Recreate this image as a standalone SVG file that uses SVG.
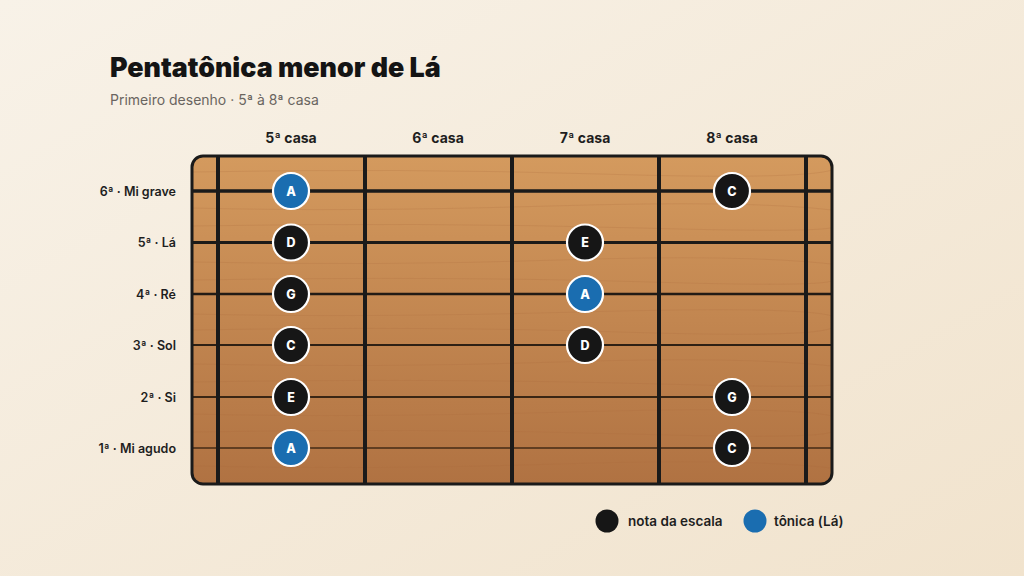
<svg xmlns="http://www.w3.org/2000/svg" width="1024" height="576" viewBox="0 0 1024 576">
<defs>
<linearGradient id="bg" x1="0" y1="0" x2="1" y2="1">
<stop offset="0" stop-color="#f8f2e8"/>
<stop offset="1" stop-color="#f1e3cd"/>
</linearGradient>
<linearGradient id="wood" x1="0" y1="0" x2="0" y2="1">
<stop offset="0" stop-color="#d49a5e"/>
<stop offset="1" stop-color="#b07242"/>
</linearGradient>
<clipPath id="fbclip"><rect x="192" y="156" width="640" height="328" rx="11"/></clipPath>
<style>
.title{font-family:Inter,"Noto Sans",sans-serif;font-weight:900;font-size:26.8px;fill:#141414}
.sub{font-family:Inter,"Noto Sans",sans-serif;font-size:14px;fill:#6a6560}
.col{font-family:Inter,"Noto Sans",sans-serif;font-weight:700;font-size:14px;fill:#1e1e1e;text-anchor:middle}
.str{font-family:Inter,"Noto Sans",sans-serif;font-weight:600;font-size:12.5px;fill:#1e1e1e;text-anchor:end}
.leg{font-family:Inter,"Noto Sans",sans-serif;font-weight:600;font-size:13.5px;fill:#1e1e1e}
.fret{stroke:#1a1a1a;stroke-width:4}
.grain{stroke:#a86a3a;stroke-opacity:0.2;stroke-width:1;fill:none}
.note{stroke:#ffffff;stroke-width:2.2}
.scale{fill:#161616}
.root{fill:#1a6db0}
.nl{font-family:Inter,"Noto Sans",sans-serif;font-weight:800;font-size:12.5px;fill:#ffffff;text-anchor:middle}
</style>
</defs>
<rect width="1024" height="576" fill="url(#bg)"/>
<g id="title">
<text class="title" x="110" y="77">Pentatônica menor de Lá</text>
<text class="sub" x="110" y="105">Primeiro desenho · 5ª à 8ª casa</text>
</g>
<g id="fret-labels">
<text class="col" x="291" y="143">5ª casa</text>
<text class="col" x="438" y="143">6ª casa</text>
<text class="col" x="585" y="143">7ª casa</text>
<text class="col" x="732" y="143">8ª casa</text>
</g>
<g id="string-labels">
<text class="str" x="176" y="196">6ª · Mi grave</text>
<text class="str" x="176" y="247">5ª · Lá</text>
<text class="str" x="176" y="299">4ª · Ré</text>
<text class="str" x="176" y="350">3ª · Sol</text>
<text class="str" x="176" y="402">2ª · Si</text>
<text class="str" x="176" y="453">1ª · Mi agudo</text>
</g>
<g id="fretboard">
<rect x="192" y="156" width="640" height="328" rx="11" fill="url(#wood)"/>
<g clip-path="url(#fbclip)">
<path class="grain" d="M192 172 Q400 168 600 174 T832 170"/>
<path class="grain" d="M192 208 Q350 212 550 206 T832 210"/>
<path class="grain" d="M192 226 Q420 222 640 228 T832 224"/>
<path class="grain" d="M192 262 Q380 266 560 260 T832 264"/>
<path class="grain" d="M192 280 Q450 276 650 282 T832 278"/>
<path class="grain" d="M192 314 Q360 318 580 312 T832 316"/>
<path class="grain" d="M192 330 Q430 326 620 332 T832 328"/>
<path class="grain" d="M192 364 Q380 368 560 362 T832 366"/>
<path class="grain" d="M192 382 Q440 378 660 384 T832 380"/>
<path class="grain" d="M192 414 Q350 418 570 412 T832 416"/>
<path class="grain" d="M192 432 Q420 428 630 434 T832 430"/>
<path class="grain" d="M192 466 Q380 470 560 464 T832 468"/>
</g>
</g>
<g id="connectors">
<g id="strings">
<line x1="192" y1="191" x2="832" y2="191" stroke="#1a1a1a" stroke-width="3.5"/>
<line x1="192" y1="242.5" x2="832" y2="242.5" stroke="#1c1a18" stroke-width="3"/>
<line x1="192" y1="294" x2="832" y2="294" stroke="#221b15" stroke-width="2.6"/>
<line x1="192" y1="345" x2="832" y2="345" stroke="#2e2014" stroke-width="2.2"/>
<line x1="192" y1="397" x2="832" y2="397" stroke="#3a2614" stroke-width="1.9"/>
<line x1="192" y1="448" x2="832" y2="448" stroke="#442b16" stroke-width="1.6"/>
</g>
<g id="frets">
<line class="fret" x1="218" y1="156" x2="218" y2="484"/>
<line class="fret" x1="365" y1="156" x2="365" y2="484"/>
<line class="fret" x1="512" y1="156" x2="512" y2="484"/>
<line class="fret" x1="659" y1="156" x2="659" y2="484"/>
<line class="fret" x1="806" y1="156" x2="806" y2="484"/>
</g>
</g>
<rect x="192" y="156" width="640" height="328" rx="11" fill="none" stroke="#1a1a1a" stroke-width="3"/>
<g id="n-6-5"><circle class="note root" cx="291" cy="191" r="18"/><text class="nl" x="291" y="195.5">A</text></g>
<g id="n-6-8"><circle class="note scale" cx="732" cy="191" r="18"/><text class="nl" x="732" y="195.5">C</text></g>
<g id="n-5-5"><circle class="note scale" cx="291" cy="242.5" r="18"/><text class="nl" x="291" y="247">D</text></g>
<g id="n-5-7"><circle class="note scale" cx="585" cy="242.5" r="18"/><text class="nl" x="585" y="247">E</text></g>
<g id="n-4-5"><circle class="note scale" cx="291" cy="294" r="18"/><text class="nl" x="291" y="298.5">G</text></g>
<g id="n-4-7"><circle class="note root" cx="585" cy="294" r="18"/><text class="nl" x="585" y="298.5">A</text></g>
<g id="n-3-5"><circle class="note scale" cx="291" cy="345" r="18"/><text class="nl" x="291" y="349.5">C</text></g>
<g id="n-3-7"><circle class="note scale" cx="585" cy="345" r="18"/><text class="nl" x="585" y="349.5">D</text></g>
<g id="n-2-5"><circle class="note scale" cx="291" cy="397" r="18"/><text class="nl" x="291" y="401.5">E</text></g>
<g id="n-2-8"><circle class="note scale" cx="732" cy="397" r="18"/><text class="nl" x="732" y="401.5">G</text></g>
<g id="n-1-5"><circle class="note root" cx="291" cy="448" r="18"/><text class="nl" x="291" y="452.5">A</text></g>
<g id="n-1-8"><circle class="note scale" cx="732" cy="448" r="18"/><text class="nl" x="732" y="452.5">C</text></g>
<g id="legend">
<circle cx="607" cy="521" r="11.5" fill="#161616"/>
<text class="leg" x="628" y="526">nota da escala</text>
<circle cx="755" cy="521" r="11.5" fill="#1a6db0"/>
<text class="leg" x="774" y="526">tônica (Lá)</text>
</g>
</svg>
